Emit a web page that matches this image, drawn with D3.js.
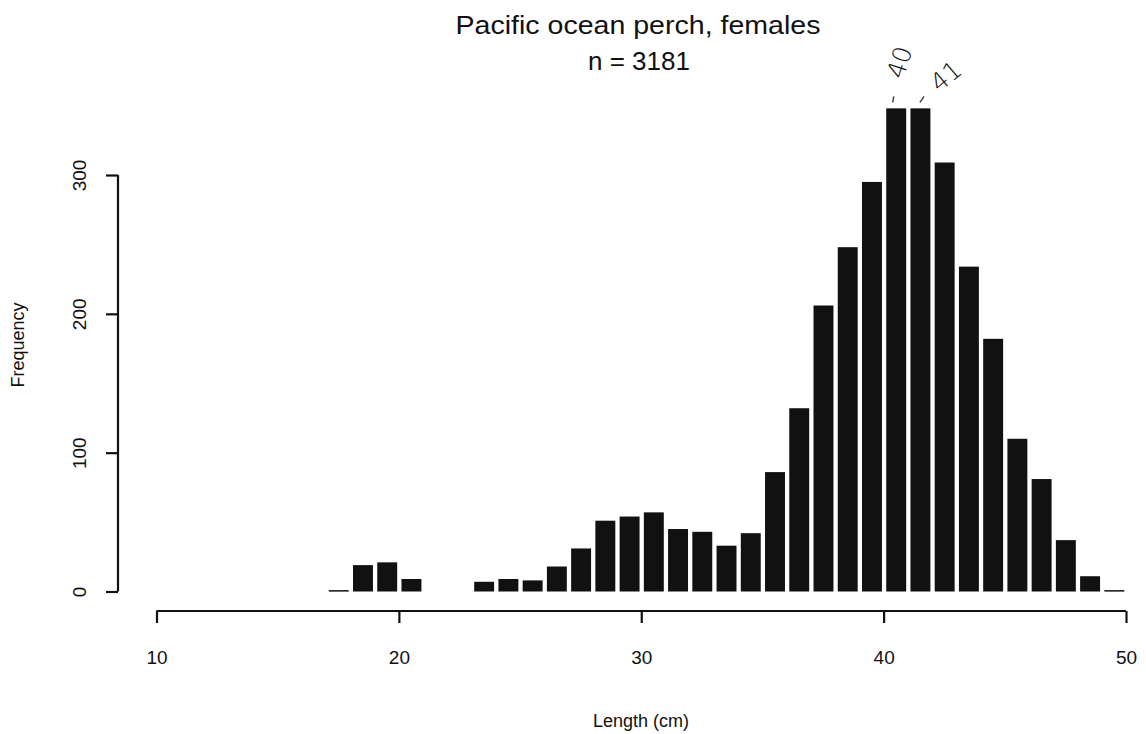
<!DOCTYPE html>
<html>
<head>
<meta charset="utf-8">
<script src="https://cdn.jsdelivr.net/npm/d3@7"></script>
<style>
  body { margin: 0; background: #fff; }
  text { font-family: 'Liberation Sans', Arial, sans-serif; fill: #111; }
</style>
</head>
<body>
<div id="chart"></div>
<script>
// bins are 1 cm wide, labelled by their lower edge
const binStart = [17, 18, 19, 20, 21, 22, 23, 24, 25, 26, 27, 28, 29, 30, 31, 32, 33,
  34, 35, 36, 37, 38, 39, 40, 41, 42, 43, 44, 45, 46, 47, 48, 49]
const freq = [1, 19, 21, 9, 0, 0, 7, 9, 8, 18, 31, 51, 54, 57, 45, 43, 33,
  42, 86, 132, 206, 248, 295, 348, 348, 309, 234, 182, 110, 81, 37, 11, 1]
const xTicks = [10, 20, 30, 40, 50]
const yTicks = [0, 100, 200, 300]
const marked = [40, 41]

const width = 1146
const height = 734
const ink = '#111'

const svg = d3.select('#chart')
  .append('svg')
  .attr('width', width)
  .attr('height', height)

const x = d3.scaleLinear().domain([10, 50]).range([156.5, 1126])
const y = d3.scaleLinear().domain([0, 300]).range([591.5, 175])

const bins = binStart.map((b, i) => ({ b, n: freq[i] })).filter(d => d.n > 0)

svg.selectAll('.bar')
  .data(bins)
  .enter()
  .append('rect')
  .attr('class', 'bar')
  .attr('x', d => x(d.b) + 2.6)
  .attr('width', d => x(d.b + 1) - x(d.b) - 4.3)
  .attr('y', d => y(d.n))
  .attr('height', d => Math.max(y(0) - y(d.n), 1.5))
  .attr('fill', ink)

// x axis, R style: offset below the bars
const xAxis = svg.append('g')
  .attr('transform', 'translate(0,611)')
  .call(d3.axisBottom(x).tickValues(xTicks).tickSize(12).tickPadding(28).tickSizeOuter(0))
xAxis.select('.domain').remove()
xAxis.append('line')
  .attr('x1', x(10)).attr('x2', x(50))
  .attr('stroke', ink).attr('stroke-width', 2.2)
xAxis.selectAll('.tick line').attr('stroke', ink).attr('stroke-width', 2.2)
xAxis.selectAll('.tick text')
  .attr('fill', ink)
  .style('font-size', '19px')
  .style('font-family', "'Liberation Sans', Arial, sans-serif")

// y axis, offset to the left
const yAxis = svg.append('g')
  .attr('transform', 'translate(118,0)')
  .call(d3.axisLeft(y).tickValues(yTicks).tickSize(12).tickSizeOuter(0))
yAxis.select('.domain').remove()
yAxis.append('line')
  .attr('y1', y(0)).attr('y2', y(300))
  .attr('stroke', ink).attr('stroke-width', 2.2)
yAxis.selectAll('.tick line').attr('stroke', ink).attr('stroke-width', 2.2)
yAxis.selectAll('.tick text')
  .attr('fill', ink)
  .attr('x', 0)
  .attr('dy', 0)
  .attr('transform', 'translate(-39,0) rotate(-90)')
  .attr('text-anchor', 'middle')
  .style('font-size', '19px')
  .style('font-family', "'Liberation Sans', Arial, sans-serif")
  .style('dominant-baseline', 'central')

// titles
svg.append('text')
  .attr('x', 638).attr('y', 34)
  .attr('text-anchor', 'middle')
  .style('font-size', '26px')
  .attr('textLength', 365)
  .attr('lengthAdjust', 'spacingAndGlyphs')
  .text('Pacific ocean perch, females')

svg.append('text')
  .attr('x', 639).attr('y', 70)
  .attr('text-anchor', 'middle')
  .style('font-size', '26px')
  .text('n = 3181')

svg.append('text')
  .attr('x', 641).attr('y', 727)
  .attr('text-anchor', 'middle')
  .style('font-size', '18px')
  .text('Length (cm)')

svg.append('text')
  .attr('transform', 'translate(24,345) rotate(-90)')
  .attr('text-anchor', 'middle')
  .style('font-size', '18px')
  .text('Frequency')

// handwritten notes over the two tallest bars
const notes = marked.map((m, i) => ({ m, n: freq[binStart.indexOf(m)], rot: i === 0 ? -72 : -40 }))
const noteOffset = [[4, -46], [26, -32]]

svg.selectAll('.note')
  .data(notes)
  .enter()
  .append('text')
  .attr('class', 'note')
  .attr('transform', (d, i) => `translate(${x(d.m + 0.5) + noteOffset[i][0]},${y(d.n) + noteOffset[i][1]}) rotate(${d.rot})`)
  .attr('text-anchor', 'middle')
  .attr('dominant-baseline', 'central')
  .style('font-family', "'DejaVu Sans', sans-serif")
  .style('font-size', '25px')
  .style('font-weight', '300')
  .attr('fill', '#222')
  .text(d => d.m)

svg.selectAll('.notemark')
  .data(notes)
  .enter()
  .append('line')
  .attr('class', 'notemark')
  .attr('x1', (d, i) => x(d.m + 0.5) - 3 + i * 3)
  .attr('x2', (d, i) => x(d.m + 0.5) - 2 + i * 6)
  .attr('y1', d => y(d.n) - 6)
  .attr('y2', d => y(d.n) - 12)
  .attr('stroke', '#444')
  .attr('stroke-width', 1.5)
</script>
</body>
</html>
